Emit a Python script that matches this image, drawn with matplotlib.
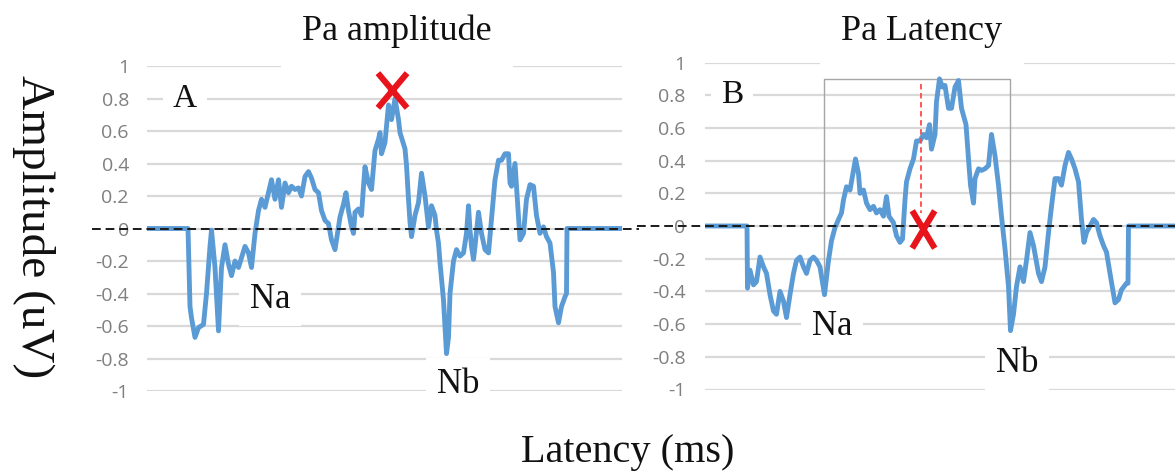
import matplotlib
matplotlib.use("Agg")
import numpy as np
import matplotlib.pyplot as plt
from matplotlib.path import Path
from matplotlib.transforms import Affine2D

# ---- data -------------------------------------------------------------
# Panel A (Pa amplitude): latency in ms, amplitude in uV
lat_a = [0.0, 8.2, 8.6, 8.9, 9.6, 10.3, 11.3, 11.9, 12.6, 12.9, 13.6, 14.3, 14.9,
         15.6, 16.3, 16.9, 17.6, 18.3, 18.9, 19.6, 20.3, 20.9, 21.6, 22.3, 22.9,
         23.6, 24.3, 24.9, 25.6, 26.3, 26.9, 27.6, 28.3, 28.9, 29.6, 30.3, 30.9,
         31.6, 32.3, 32.9, 33.6, 34.3, 34.9, 35.6, 36.3, 36.9, 37.6, 37.9, 38.6,
         39.3, 39.8, 40.3, 40.9, 41.3, 41.6, 42.3, 42.9, 43.3, 43.6, 44.3, 44.9,
         45.6, 46.3, 46.6, 46.9, 47.6, 47.9, 48.3, 48.9, 49.6, 50.3, 50.6, 51.6,
         51.9, 52.3, 52.6, 52.9, 53.6, 54.3, 54.9, 55.6, 56.3, 56.9, 57.6, 57.9,
         58.3, 58.6, 59.3, 59.6, 59.9, 60.3, 60.6, 61.3, 61.9, 62.6, 63.3, 63.9,
         64.3, 64.6, 64.9, 65.3, 65.6, 66.3, 66.9, 67.6, 68.3, 68.9, 69.6, 70.3,
         70.9, 71.6, 72.3, 72.6, 72.9, 73.6, 74.1, 74.6, 75.3, 75.9, 76.6, 77.3,
         77.9, 78.6, 79.3, 79.9, 80.6, 81.3, 81.6, 82.3, 82.9, 83.6, 83.9, 84.0,
         95.0]
amp_a = [0, 0, -0.48, -0.55, -0.67, -0.61, -0.59, -0.40, -0.11, -0.01, -0.24, -0.63,
         -0.24, -0.10, -0.22, -0.29, -0.20, -0.24, -0.18, -0.11, -0.15, -0.24, -0.03,
         0.11, 0.18, 0.13, 0.22, 0.30, 0.18, 0.30, 0.13, 0.28, 0.22, 0.26, 0.24,
         0.25, 0.20, 0.32, 0.35, 0.31, 0.24, 0.22, 0.11, 0.05, 0.03, -0.07, -0.13,
         -0.07, 0.07, 0.15, 0.22, 0.11, 0.01, -0.03, 0.10, 0.12, 0.08, 0.26, 0.38,
         0.28, 0.24, 0.48, 0.55, 0.59, 0.46, 0.53, 0.63, 0.76, 0.67, 0.80, 0.67,
         0.59, 0.49, 0.39, 0.18, 0.04, -0.05, 0.08, 0.16, 0.34, 0.20, 0.01, 0.14,
         0.08, -0.01, -0.09, -0.21, -0.44, -0.60, -0.77, -0.67, -0.40, -0.20, -0.13,
         -0.17, -0.15, -0.03, 0.14, -0.01, -0.11, -0.19, -0.11, 0.10, -0.03, -0.13,
         -0.15, 0.06, 0.30, 0.42, 0.42, 0.46, 0.46, 0.28, 0.26, 0.40, 0.16, -0.07,
         -0.03, 0.18, 0.27, 0.26, 0.08, -0.03, 0.01, -0.05, -0.09, -0.27, -0.48,
         -0.58, -0.48, -0.42, -0.40, 0, 0]

# Panel B (Pa latency)
lat_b = [0.0, 8.4, 8.5, 9.0, 9.7, 10.3, 11.0, 11.7, 12.3, 13.0, 13.7, 14.3, 15.0,
         15.7, 16.3, 17.0, 17.7, 18.3, 19.0, 19.7, 20.3, 21.0, 21.7, 22.3, 23.0,
         23.9, 24.7, 25.3, 26.0, 26.7, 27.3, 27.7, 28.3, 29.0, 29.7, 30.1, 30.7,
         31.0, 31.7, 32.3, 33.0, 33.7, 34.3, 35.0, 35.7, 36.3, 36.8, 37.7, 38.3,
         39.0, 39.5, 40.0, 40.3, 41.0, 41.7, 42.3, 43.0, 43.7, 44.3, 44.9, 45.3,
         46.0, 46.3, 46.9, 47.5, 48.0, 48.7, 49.3, 50.0, 50.7, 51.3, 52.2, 52.7,
         53.1, 53.7, 54.0, 54.7, 55.3, 56.0, 56.7, 57.3, 58.0, 58.7, 59.3, 60.0,
         60.7, 61.1, 61.7, 62.3, 63.0, 63.7, 64.3, 65.0, 65.7, 66.7, 67.3, 68.0,
         68.7, 69.3, 70.0, 70.7, 71.3, 72.0, 72.7, 73.3, 74.0, 74.7, 75.3, 75.8,
         76.3, 77.0, 77.7, 78.3, 79.0, 79.7, 80.3, 81.0, 82.0, 82.7, 83.3, 84.3,
         84.6, 84.7, 95.0]
amp_b = [0, 0, -0.38, -0.27, -0.36, -0.34, -0.19, -0.25, -0.29, -0.42, -0.52, -0.54,
         -0.40, -0.46, -0.56, -0.42, -0.29, -0.21, -0.19, -0.25, -0.29, -0.21, -0.19,
         -0.21, -0.25, -0.42, -0.21, -0.09, -0.01, 0.04, 0.08, 0.16, 0.24, 0.22,
         0.34, 0.41, 0.32, 0.20, 0.22, 0.14, 0.10, 0.12, 0.08, 0.10, 0.06, 0.18,
         0.06, 0.02, -0.06, -0.10, -0.08, 0.16, 0.27, 0.35, 0.41, 0.52, 0.52, 0.56,
         0.54, 0.62, 0.47, 0.56, 0.76, 0.90, 0.85, 0.86, 0.72, 0.72, 0.85, 0.89,
         0.72, 0.62, 0.41, 0.25, 0.14, 0.29, 0.35, 0.34, 0.35, 0.37, 0.56, 0.43,
         0.25, 0.06, -0.14, -0.37, -0.64, -0.54, -0.37, -0.25, -0.34, -0.21, -0.04,
         -0.12, -0.29, -0.34, -0.25, -0.04, 0.12, 0.29, 0.29, 0.25, 0.37, 0.45,
         0.41, 0.35, 0.27, 0.04, -0.10, -0.04, 0.0, 0.04, 0.02, -0.06, -0.12, -0.16,
         -0.29, -0.47, -0.45, -0.39, -0.35, -0.35, 0, 0]

y_ticks = [1, 0.8, 0.6, 0.4, 0.2, 0, -0.2, -0.4, -0.6, -0.8, -1]
y_tick_labels = ["1", "0.8", "0.6", "0.4", "0.2", "0",
                 "-0.2", "-0.4", "-0.6", "-0.8", "-1"]
titles = ["Pa amplitude", "Pa Latency"]
letters = ["A", "B"]
na_window_b = (20, 30)      # search range for the Na trough (ms)
nb_window_b = (55, 66)      # search range for the Nb trough (ms)
pa_latency_b = 43.3         # Pa latency mark (ms)

# ---- style --------------------------------------------------------------
W, H = 1175, 471
BLUE = "#5b9bd5"
GRID = "#d9d9d9"
TICK = "#7f7f7f"
RED = "#e8141b"
SERIF = "Liberation Serif"

fig = plt.figure(figsize=(W / 100, H / 100), dpi=100)
px = Affine2D().scale(1, -1).translate(0, H)   # pixel coords from the top-left


def make_axes(left, top, right, bottom, tick_pad):
    ax = fig.add_axes([left / W, 1 - bottom / H, (right - left) / W, (bottom - top) / H])
    ax.set_xlim(0, 95)
    ax.set_ylim(-1, 1)
    ax.set_yticks(y_ticks)
    ax.set_yticklabels(y_tick_labels, fontsize=14, color=TICK, family="Open Sans")
    ax.tick_params(axis="y", length=0, pad=tick_pad)
    ax.set_xticks([])
    ax.yaxis.grid(True, color=GRID, lw=1.6)
    ax.set_axisbelow(True)
    for s in ax.spines.values():
        s.set_visible(False)
    ax.patch.set_alpha(0)
    return ax


def label(ax, x, y, s, size, pad):
    ax.text(x, y, s, transform=px, ha="center", va="baseline", fontsize=size,
            family=SERIF, color="#111111", zorder=1.5, clip_on=False,
            bbox=dict(boxstyle=f"square,pad={pad}", fc="white", ec="none"))


def cross_marker(half_w):
    return Path([(-half_w, -0.5), (half_w, 0.5), (-half_w, 0.5), (half_w, -0.5)],
                [Path.MOVETO, Path.LINETO, Path.MOVETO, Path.LINETO])


ax_a = make_axes(147, 66, 622, 391, 13)
ax_b = make_axes(705, 62.5, 1180, 389.5, 14)

for ax, lat, amp, x0, x1 in [(ax_a, lat_a, amp_a, -0.115, 1.035),
                             (ax_b, lat_b, amp_b, -0.143, 1.05)]:
    ax.plot(lat, amp, color=BLUE, lw=3.5, solid_joinstyle="round", zorder=2)
    ax.plot([x0, x1], [0, 0], transform=ax.get_yaxis_transform(), color="#1a1a1a",
            lw=1.4, linestyle=(0, (4.5, 2.5)), zorder=3, clip_on=False)

# Panel A: Pa peak marked with a cross
la, aa = np.array(lat_a), np.array(amp_a)
i_pk = int(np.argmax(aa))
ax_a.plot([la[i_pk] - 0.6], [aa[i_pk] + 0.05], marker=cross_marker(0.42), ms=25,
          mec=RED, mew=4.4, ls="none", zorder=4)

# Panel B: Na-Nb window with peak height, and latency mark
lb, ab = np.array(lat_b), np.array(amp_b)
m_na = (lb >= na_window_b[0]) & (lb <= na_window_b[1])
m_nb = (lb >= nb_window_b[0]) & (lb <= nb_window_b[1])
i_na = np.where(m_na)[0][np.argmin(ab[m_na])]
i_nb = np.where(m_nb)[0][np.argmin(ab[m_nb])]
top = ab.max()
ax_b.plot([lb[i_na], lb[i_na], lb[i_nb], lb[i_nb]], [ab[i_na], top, top, ab[i_nb]],
          color="#a6a6a6", lw=1.0, zorder=1.8)
ax_b.plot([pa_latency_b, pa_latency_b], [top - 0.03, 0.08], color="#ff4a4a", lw=1.3,
          linestyle=(0, (3, 2)), zorder=3.5)
ax_b.plot([pa_latency_b + 0.4], [-0.02], marker=cross_marker(0.3), ms=27,
          mec=RED, mew=4.4, ls="none", zorder=4)

# Titles and annotations
label(ax_a, 397, 40, titles[0], 26, 0.6)
label(ax_b, 922, 40, titles[1], 26, 0.6)
label(ax_a, 185, 107, letters[0], 24, 0.3)
label(ax_b, 732, 103, letters[1], 24, 0.3)
label(ax_a, 270, 308, "Na", 25, 0.3)
label(ax_a, 458, 393, "Nb", 25, 0.3)
label(ax_b, 832, 335, "Na", 25, 0.3)
label(ax_b, 1017, 372, "Nb", 25, 0.3)

fig.text(33 / W, 1 - 227 / H, "Amplitude (uV)", rotation=-90, ha="center",
         va="center", fontsize=34, family=SERIF, color="#111111")
fig.text(628 / W, 1 - 462 / H, "Latency (ms)", ha="center", va="baseline",
         fontsize=29, family=SERIF, color="#111111")

fig.savefig("out.png", dpi=100, facecolor="white")
